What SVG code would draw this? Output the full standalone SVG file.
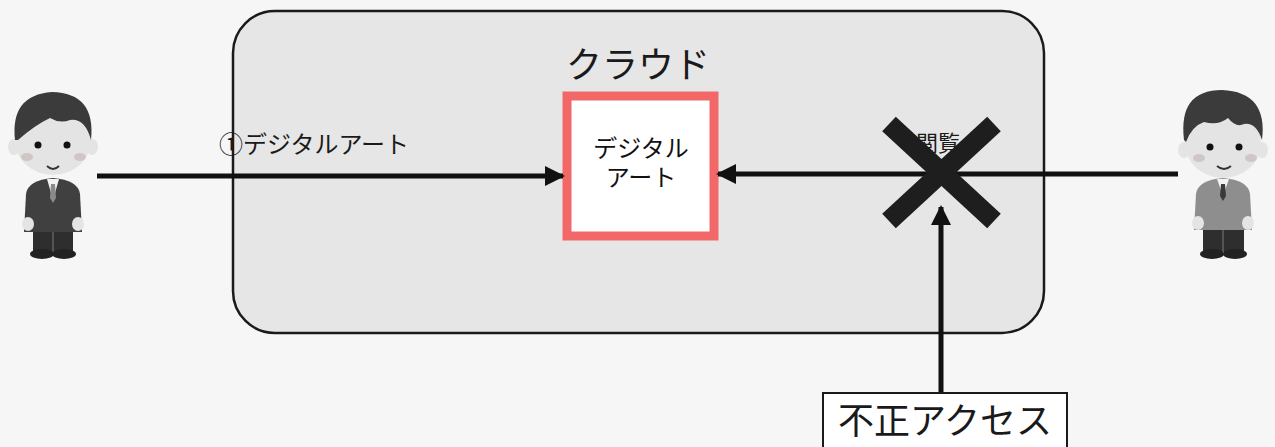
<svg xmlns="http://www.w3.org/2000/svg" width="1275" height="447" viewBox="0 0 1275 447">
  <defs>
    <style>
      .jp { font-family: "Noto Sans CJK JP", "Noto Sans", sans-serif; fill: #1a1a1a; }
      .serif { font-family: "Liberation Serif", "Noto Sans CJK JP", serif; fill: #111; }
      .wire { stroke: #111; stroke-width: 5; fill: none; }
      .skin { fill: #e4e4e4; }
      .hair { fill: #3b3b3b; }
      .eye { fill: #111; }
      .cheek { fill: #cfc6c6; }
    </style>
    <marker id="head" viewBox="0 0 10 10" refX="9" refY="5" markerWidth="4" markerHeight="4" orient="auto">
      <path d="M0,0 L10,5 L0,10 z" fill="#111"/>
    </marker>
  </defs>

  <rect width="1275" height="447" fill="#f6f6f6"/>

  <!-- cloud area -->
  <g id="cloud">
    <rect x="233" y="11" width="811" height="322" rx="42" fill="#e6e6e6" stroke="#1a1a1a" stroke-width="2.5"/>
    <text class="jp" x="638" y="78" font-size="36" text-anchor="middle">クラウド</text>
  </g>

  <!-- stored artwork -->
  <g id="artwork">
    <rect x="567" y="96" width="147" height="140" fill="#ffffff" stroke="#f26868" stroke-width="9"/>
    <text class="serif" x="641" y="157" font-size="24" text-anchor="middle">デジタル</text>
    <text class="serif" x="641" y="186" font-size="24" text-anchor="middle">アート</text>
  </g>

  <!-- label partly covered by the cross -->
  <g id="view-label">
    <text class="jp" x="938" y="151" font-size="22" text-anchor="middle">閲覧</text>
  </g>

  <!-- connectors -->
  <g id="connectors">
    <line class="wire" x1="97" y1="176" x2="563" y2="176" marker-end="url(#head)"/>
    <line class="wire" x1="1178" y1="174" x2="718" y2="174" marker-end="url(#head)"/>
    <line class="wire" x1="941" y1="393" x2="941" y2="207" stroke-width="6" marker-end="url(#head)"/>
    <text class="jp" x="219" y="153" font-size="24">①デジタルアート</text>
  </g>

  <!-- blocked mark -->
  <g id="cross">
    <line x1="889" y1="124" x2="994" y2="221" stroke="#1e1e1e" stroke-width="20"/>
    <line x1="994" y1="124" x2="889" y2="221" stroke="#1e1e1e" stroke-width="20"/>
  </g>

  <!-- unauthorized access box -->
  <g id="unauthorized">
    <rect x="823" y="393" width="244" height="70" fill="#ffffff" stroke="#1a1a1a" stroke-width="2"/>
    <text class="jp" x="945" y="434" font-size="36" text-anchor="middle">不正アクセス</text>
  </g>

  <!-- creator (suit) -->
  <g id="creator">
    <rect x="33" y="228" width="40" height="24" fill="#2e2e2e"/>
    <rect x="52" y="232" width="2" height="20" fill="#555"/>
    <ellipse cx="42" cy="254" rx="12" ry="5" fill="#222"/>
    <ellipse cx="64" cy="254" rx="12" ry="5" fill="#222"/>
    <path d="M24,232 L26,194 Q28,180 53,178 Q78,180 80,194 L82,232 Z" fill="#404040"/>
    <path d="M47,179 L53,200 L59,179 Z" fill="#f2f2f2"/>
    <path d="M51,184 L55,184 L56,198 L53,203 L50,198 Z" fill="#8a8a8a"/>
    <ellipse cx="28" cy="224" rx="6" ry="7" class="skin"/>
    <ellipse cx="78" cy="224" rx="6" ry="7" class="skin"/>
    <ellipse cx="14" cy="147" rx="6" ry="8" class="skin"/>
    <ellipse cx="92" cy="147" rx="6" ry="8" class="skin"/>
    <ellipse cx="53" cy="140" rx="38" ry="35" class="skin"/>
    <path d="M15,140 Q10,95 52,92 Q96,93 91,140 Q85,118 70,120 Q60,124 50,118 Q35,125 18,140 Z" class="hair"/>
    <circle cx="38" cy="145" r="3.5" class="eye"/>
    <circle cx="67" cy="145" r="3.5" class="eye"/>
    <ellipse cx="27" cy="157" rx="6" ry="4" class="cheek"/>
    <ellipse cx="80" cy="157" rx="6" ry="4" class="cheek"/>
    <path d="M47,166 Q53,172 59,166" stroke="#333" stroke-width="1.8" fill="none"/>
  </g>

  <!-- viewer (sweater) -->
  <g id="viewer">
    <rect x="1203" y="226" width="41" height="26" fill="#2e2e2e"/>
    <rect x="1222" y="230" width="2" height="22" fill="#555"/>
    <ellipse cx="1212" cy="254" rx="12" ry="5" fill="#222"/>
    <ellipse cx="1235" cy="254" rx="12" ry="5" fill="#222"/>
    <path d="M1194,230 L1196,194 Q1198,180 1223,178 Q1248,180 1250,194 L1252,230 Z" fill="#8e8e8e"/>
    <path d="M1217,179 L1223,196 L1229,179 Z" fill="#f2f2f2"/>
    <path d="M1221,184 L1225,184 L1226,196 L1223,201 L1220,196 Z" fill="#3a3a3a"/>
    <ellipse cx="1198" cy="223" rx="6" ry="7" class="skin"/>
    <ellipse cx="1248" cy="223" rx="6" ry="7" class="skin"/>
    <ellipse cx="1184" cy="150" rx="6" ry="8" class="skin"/>
    <ellipse cx="1262" cy="150" rx="6" ry="8" class="skin"/>
    <ellipse cx="1223" cy="143" rx="38" ry="35" class="skin"/>
    <path d="M1184,140 Q1178,90 1222,90 Q1268,92 1262,140 Q1256,122 1244,124 Q1236,128 1228,118 Q1218,126 1204,122 Q1192,126 1186,142 Z" class="hair"/>
    <circle cx="1210" cy="147" r="3.5" class="eye"/>
    <circle cx="1239" cy="147" r="3.5" class="eye"/>
    <ellipse cx="1199" cy="158" rx="6" ry="4" class="cheek"/>
    <ellipse cx="1251" cy="158" rx="6" ry="4" class="cheek"/>
    <path d="M1217,166 Q1224,172 1231,166" stroke="#333" stroke-width="1.8" fill="none"/>
  </g>
</svg>
